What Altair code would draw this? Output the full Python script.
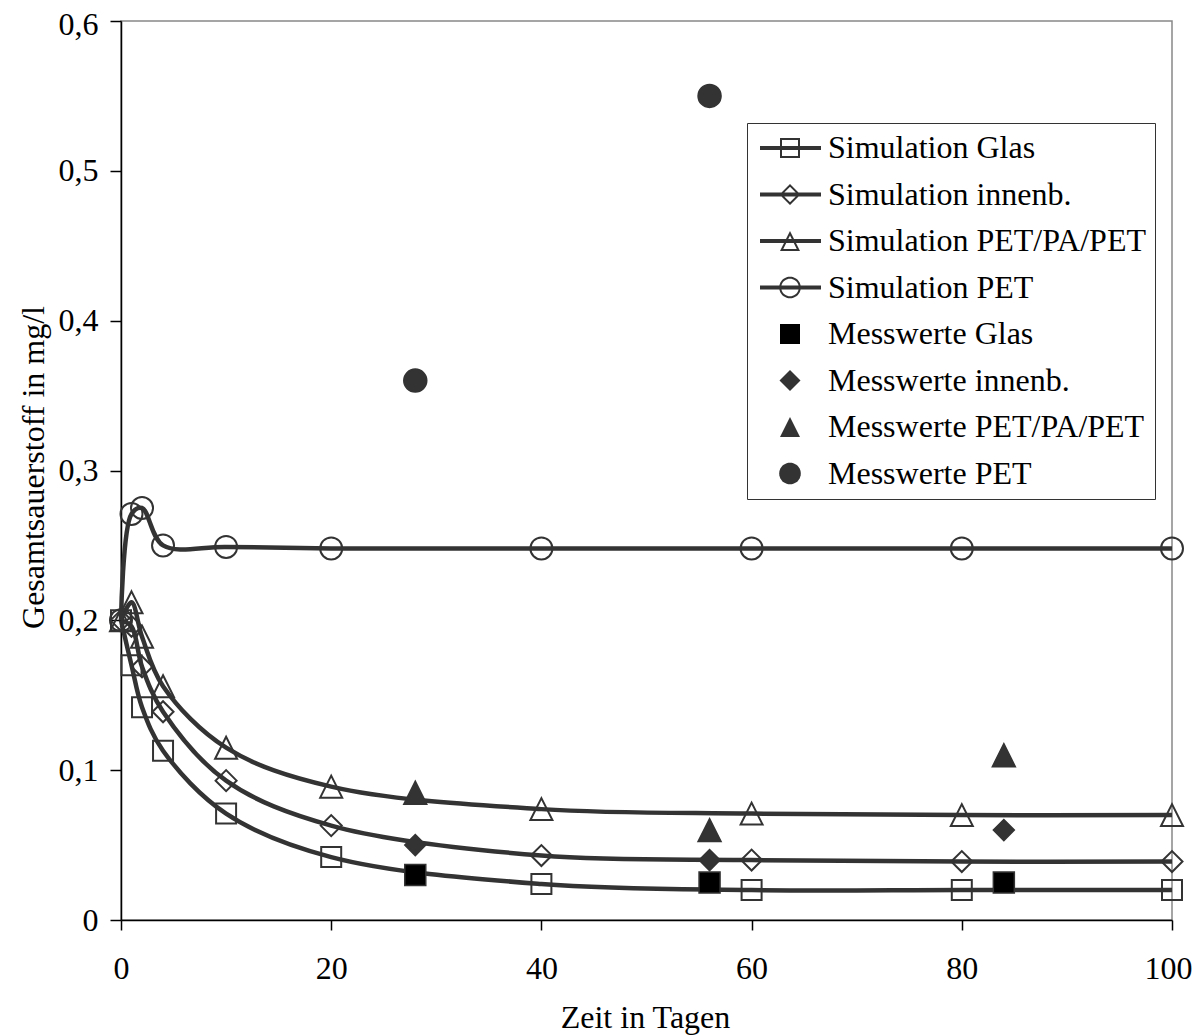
import math
import altair as alt
import pandas as pd

# ---------------- data ----------------
days_sim = [0, 1, 2, 4, 10, 20, 40, 60, 80, 100]
sim_glas = [0.200, 0.170, 0.142, 0.113, 0.071, 0.042, 0.024, 0.020, 0.020, 0.020]
sim_innenb = [0.200, 0.196, 0.169, 0.139, 0.093, 0.063, 0.043, 0.040, 0.039, 0.039]
sim_petpa = [0.200, 0.212, 0.189, 0.156, 0.115, 0.089, 0.074, 0.071, 0.070, 0.070]
sim_pet = [0.200, 0.271, 0.275, 0.250, 0.249, 0.248, 0.248, 0.248, 0.248, 0.248]

days_meas = [28, 56, 84]
meas_glas = [0.030, 0.025, 0.025]
meas_innenb = [0.050, 0.040, 0.060]
meas_petpa = [0.085, 0.060, 0.110]
days_meas_pet = [28, 56]
meas_pet = [0.360, 0.550]

series_names = [
    "Simulation Glas", "Simulation innenb.", "Simulation PET/PA/PET", "Simulation PET",
    "Messwerte Glas", "Messwerte innenb.", "Messwerte PET/PA/PET", "Messwerte PET",
]

INK = "#333333"
FONT = "Liberation Serif"
FS = 32

# ---------------- legend symbol paths (style) ----------------
def poly(pts):
    return "M" + "L".join(f"{x:.3f},{y:.3f}" for x, y in pts) + "Z"

def circle_pts(cx, r, n=40):
    return [(cx + r * math.cos(2 * math.pi * k / n), r * math.sin(2 * math.pi * k / n)) for k in range(n)]

CX = 1.8
line_rect = poly([(-1.2, -0.2), (4.9, -0.2), (4.9, 0.2), (-1.2, 0.2)])

sq_out = [(CX - 1, -1), (CX + 1, -1), (CX + 1, 1), (CX - 1, 1)]
sq_in = [(CX - 0.8, -0.8), (CX + 0.8, -0.8), (CX + 0.8, 0.8), (CX - 0.8, 0.8)]
di_out = [(CX, -1.05), (CX + 1.05, 0), (CX, 1.05), (CX - 1.05, 0)]
di_in = [(CX, -0.77), (CX + 0.77, 0), (CX, 0.77), (CX - 0.77, 0)]
tr_out = [(CX, -1), (CX + 1, 1), (CX - 1, 1)]
tr_in = [(CX, -0.552), (CX + 0.676, 0.8), (CX - 0.676, 0.8)]
ci_out = circle_pts(CX, 1.08)
ci_in = circle_pts(CX, 0.88)

def ring(outer, inner):
    return poly(outer) + poly(list(reversed(inner)))

legend_paths = [
    line_rect + ring(sq_out, sq_in),
    line_rect + ring(di_out, di_in),
    line_rect + ring(tr_out, tr_in),
    line_rect + ring(ci_out, ci_in),
    poly(sq_out),
    poly(di_out),
    poly(tr_out),
    poly(ci_out),
]
legend_fills = [INK, INK, INK, INK, "#000000", INK, INK, INK]

# ---------------- chart ----------------
x_scale = alt.Scale(domain=[0, 100], nice=False, zero=False)
y_scale = alt.Scale(domain=[0, 0.6], nice=False)

x_axis = alt.Axis(
    values=[0, 20, 40, 60, 80, 100], title="Zeit in Tagen", grid=False,
    tickSize=10, labelPadding=48, labelBaseline="alphabetic", labelFlush=False,
    labelOffset={"expr": "datum.value == 100 ? -4 : 0"},
    titleX=524, titleY=107, titleBaseline="alphabetic", titleAlign="center",
)
y_axis = alt.Axis(
    values=[0, 0.1, 0.2, 0.3, 0.4, 0.5, 0.6], title="Gesamtsauerstoff in mg/l", grid=False,
    tickSize=11, labelPadding=12, labelFlush=False,
    labelOffset={"expr": "datum.value > 0.55 ? 3 : 0"},
    labelExpr="datum.value == 0 ? '0' : replace(format(datum.value, '.1f'), '.', ',')",
    titleX=-78, titleY=446, titleBaseline="alphabetic", titleAlign="center", titleAngle=-90,
)

def xy(axes=False):
    if axes:
        return dict(
            x=alt.X("x:Q", scale=x_scale, axis=x_axis),
            y=alt.Y("y:Q", scale=y_scale, axis=y_axis),
        )
    return dict(x=alt.X("x:Q", scale=x_scale), y=alt.Y("y:Q", scale=y_scale))

layers = []

sim_data = [sim_glas, sim_innenb, sim_petpa, sim_pet]
sim_shapes = ["square", "diamond", "M0,-1L1,1L-1,1Z", "circle"]
sim_sizes = [400, 441, 484, 484]

for i, vals in enumerate(sim_data):
    df = pd.DataFrame({"x": days_sim, "y": vals})
    line = alt.Chart(df).mark_line(
        interpolate="catmull-rom", color=INK, strokeWidth=4.5
    ).encode(**xy(axes=(i == 0)), order="x:Q")
    layers.append(line)

for i, vals in enumerate(sim_data):
    df = pd.DataFrame({"x": days_sim, "y": vals})
    pts = alt.Chart(df).mark_point(
        shape=sim_shapes[i], size=sim_sizes[i], filled=False,
        stroke=INK, strokeWidth=2, opacity=1,
    ).encode(**xy())
    layers.append(pts)

meas_sets = [
    (days_meas, meas_glas, "square", 441, "#000000"),
    (days_meas, meas_innenb, "diamond", 441, INK),
    (days_meas, meas_petpa, "M0,-1L1,1L-1,1Z", 529, INK),
    (days_meas_pet, meas_pet, "circle", 529, INK),
]
for dx, dy, shp, sz, fc in meas_sets:
    df = pd.DataFrame({"x": dx, "y": dy})
    pts = alt.Chart(df).mark_point(
        shape=shp, size=sz, filled=True, fill=fc, stroke=INK, strokeWidth=1.5, opacity=1,
    ).encode(**xy())
    layers.append(pts)

legend = alt.Legend(
    title=None, orient="none", legendX=626, legendY=102,
    symbolSize=400, symbolStrokeWidth=0,
    labelFont=FONT, labelFontSize=FS, labelColor="black", labelLimit=600,
    labelOffset=40, rowPadding=14.5, padding=9,
    strokeColor=INK, fillColor="white",
)
leg_df = pd.DataFrame({"series": series_names, "x": [None] * 8, "y": [None] * 8})
leg_layer = alt.Chart(leg_df).mark_point(
    filled=True, size=400, strokeWidth=0, opacity=1
).encode(
    **xy(),
    shape=alt.Shape("series:N", scale=alt.Scale(domain=series_names, range=legend_paths), legend=legend),
    fill=alt.Fill("series:N", scale=alt.Scale(domain=series_names, range=legend_fills), legend=legend),
)
layers.append(leg_layer)

chart = alt.layer(*layers).properties(
    width=1051, height=899,
    background="white",
    autosize=alt.AutoSizeParams(type="none"),
    padding={"left": 113, "top": 13, "right": 22, "bottom": 124},
).configure_view(
    stroke="#888888", strokeWidth=1.5,
).configure_axis(
    labelFont=FONT, labelFontSize=FS, labelColor="black",
    titleFont=FONT, titleFontSize=FS, titleColor="black", titleFontWeight="normal",
    domainColor="black", domainWidth=1.5, tickColor="black", tickWidth=1.5,
)

chart.save("out.html", embed_options={"renderer": "svg", "actions": False})
